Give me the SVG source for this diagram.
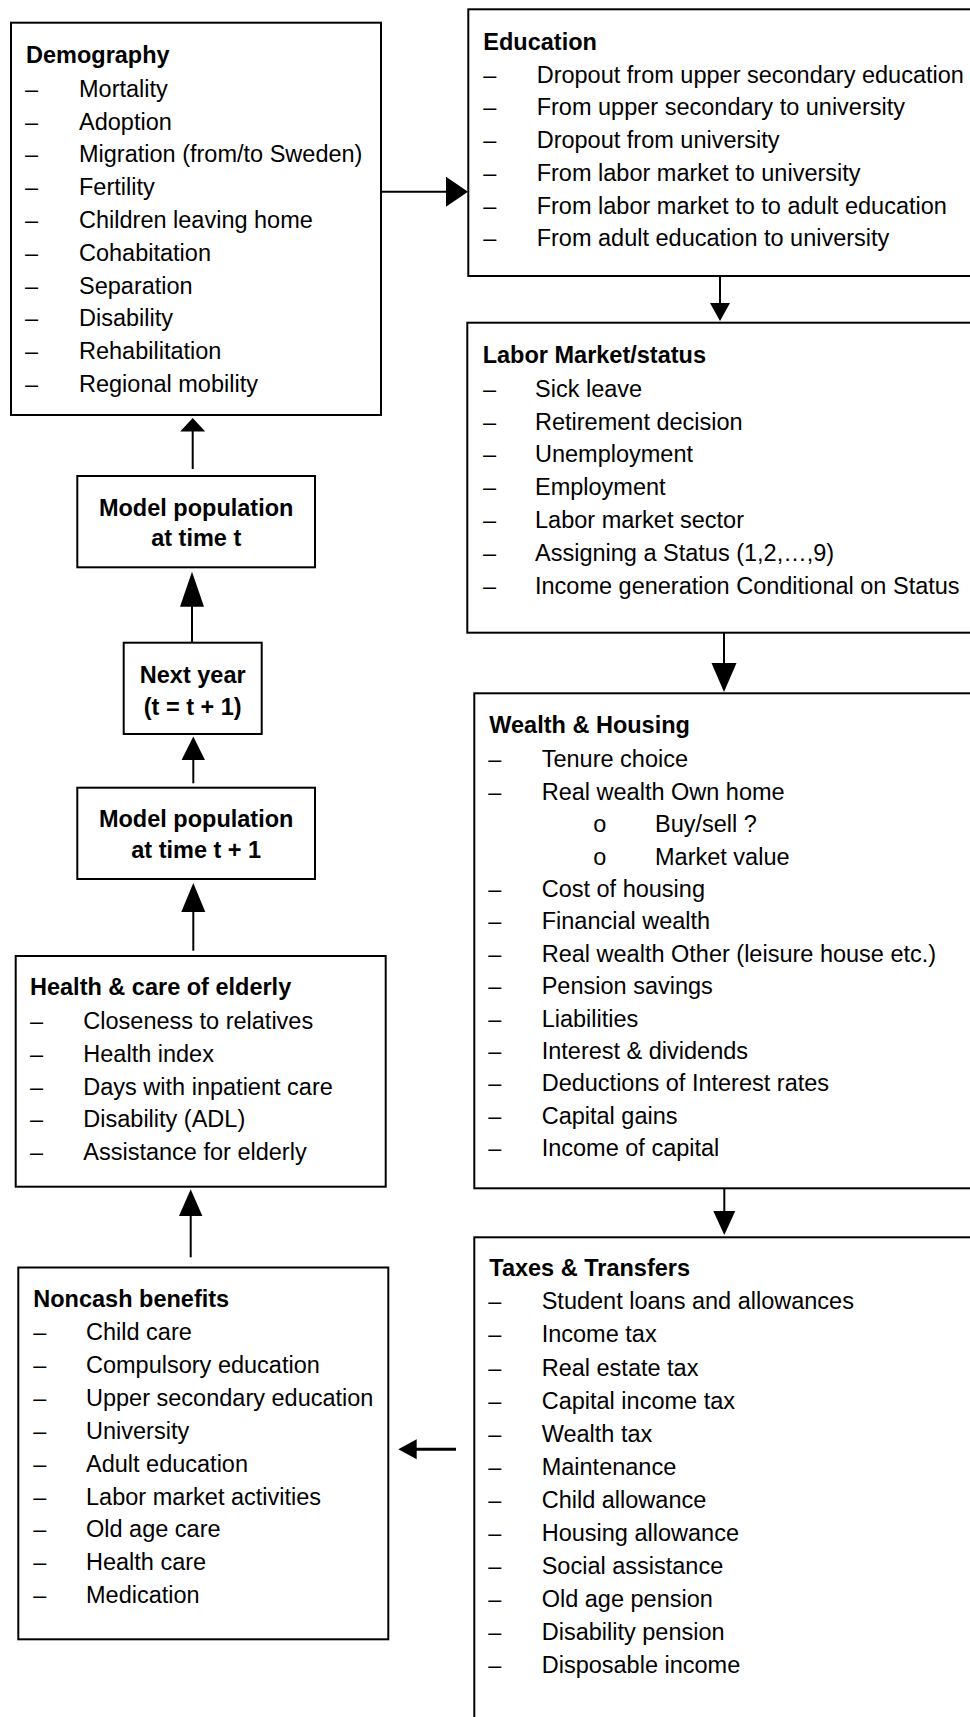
<svg xmlns="http://www.w3.org/2000/svg" width="970" height="1717" viewBox="0 0 970 1717">
<style>
.box{fill:#fff;stroke:#000;stroke-width:2}
text{font-family:"Liberation Sans",Arial,sans-serif;font-size:23.5px;fill:#000}
.t{font-weight:bold}
.c{text-anchor:middle;font-weight:bold}
.ln{stroke:#000;stroke-width:2;fill:none}
.hd{fill:#000;stroke:none}
</style>
<rect width="970" height="1717" fill="#fff"/>

<g id="demography">
<rect class="box" x="11" y="22.7" width="370" height="392.3"/>
<text class="t" x="26" y="63">Demography</text>
<g>
<text x="25" y="96.7">–</text><text x="79" y="96.7">Mortality</text>
<text x="25" y="129.5">–</text><text x="79" y="129.5">Adoption</text>
<text x="25" y="162.3">–</text><text x="79" y="162.3">Migration (from/to Sweden)</text>
<text x="25" y="195.1">–</text><text x="79" y="195.1">Fertility</text>
<text x="25" y="227.9">–</text><text x="79" y="227.9">Children leaving home</text>
<text x="25" y="260.7">–</text><text x="79" y="260.7">Cohabitation</text>
<text x="25" y="293.5">–</text><text x="79" y="293.5">Separation</text>
<text x="25" y="326.3">–</text><text x="79" y="326.3">Disability</text>
<text x="25" y="359.1">–</text><text x="79" y="359.1">Rehabilitation</text>
<text x="25" y="391.9">–</text><text x="79" y="391.9">Regional mobility</text>
</g>
</g>

<g id="education">
<rect class="box" x="468.3" y="9.3" width="540" height="266.7"/>
<text class="t" x="483.3" y="50">Education</text>
<text x="483.3" y="82.7">–</text><text x="536.7" y="82.7">Dropout from upper secondary education</text>
<text x="483.3" y="115.4">–</text><text x="536.7" y="115.4">From upper secondary to university</text>
<text x="483.3" y="148.1">–</text><text x="536.7" y="148.1">Dropout from university</text>
<text x="483.3" y="180.8">–</text><text x="536.7" y="180.8">From labor market to university</text>
<text x="483.3" y="213.5">–</text><text x="536.7" y="213.5">From labor market to to adult education</text>
<text x="483.3" y="246.2">–</text><text x="536.7" y="246.2">From adult education to university</text>
</g>

<g id="labor">
<rect class="box" x="467.3" y="322.7" width="540" height="310"/>
<text class="t" x="482.7" y="362.7">Labor Market/status</text>
<text x="483" y="396.7">–</text><text x="535" y="396.7">Sick leave</text>
<text x="483" y="429.5">–</text><text x="535" y="429.5">Retirement decision</text>
<text x="483" y="462.3">–</text><text x="535" y="462.3">Unemployment</text>
<text x="483" y="495.1">–</text><text x="535" y="495.1">Employment</text>
<text x="483" y="527.9">–</text><text x="535" y="527.9">Labor market sector</text>
<text x="483" y="560.7">–</text><text x="535" y="560.7">Assigning a Status (1,2,…,9)</text>
<text x="483" y="593.5">–</text><text x="535" y="593.5">Income generation Conditional on Status</text>
</g>

<g id="wealth">
<rect class="box" x="474.3" y="693.3" width="540" height="495"/>
<text class="t" x="489.3" y="733.3">Wealth &amp; Housing</text>
<text x="488.3" y="767.3">–</text><text x="541.7" y="767.3">Tenure choice</text>
<text x="488.3" y="799.7">–</text><text x="541.7" y="799.7">Real wealth Own home</text>
<text x="593.3" y="832.1">o</text><text x="655" y="832.1">Buy/sell ?</text>
<text x="593.3" y="864.5">o</text><text x="655" y="864.5">Market value</text>
<text x="488.3" y="896.9">–</text><text x="541.7" y="896.9">Cost of housing</text>
<text x="488.3" y="929.3">–</text><text x="541.7" y="929.3">Financial wealth</text>
<text x="488.3" y="961.7">–</text><text x="541.7" y="961.7">Real wealth Other (leisure house etc.)</text>
<text x="488.3" y="994.1">–</text><text x="541.7" y="994.1">Pension savings</text>
<text x="488.3" y="1026.5">–</text><text x="541.7" y="1026.5">Liabilities</text>
<text x="488.3" y="1058.9">–</text><text x="541.7" y="1058.9">Interest &amp; dividends</text>
<text x="488.3" y="1091.3">–</text><text x="541.7" y="1091.3">Deductions of Interest rates</text>
<text x="488.3" y="1123.7">–</text><text x="541.7" y="1123.7">Capital gains</text>
<text x="488.3" y="1156.1">–</text><text x="541.7" y="1156.1">Income of capital</text>
</g>

<g id="taxes">
<rect class="box" x="474.3" y="1237.3" width="540" height="520"/>
<text class="t" x="489.3" y="1276">Taxes &amp; Transfers</text>
<text x="488.3" y="1309.3">–</text><text x="541.7" y="1309.3">Student loans and allowances</text>
<text x="488.3" y="1342.4">–</text><text x="541.7" y="1342.4">Income tax</text>
<text x="488.3" y="1375.5">–</text><text x="541.7" y="1375.5">Real estate tax</text>
<text x="488.3" y="1408.6">–</text><text x="541.7" y="1408.6">Capital income tax</text>
<text x="488.3" y="1441.7">–</text><text x="541.7" y="1441.7">Wealth tax</text>
<text x="488.3" y="1474.8">–</text><text x="541.7" y="1474.8">Maintenance</text>
<text x="488.3" y="1507.9">–</text><text x="541.7" y="1507.9">Child allowance</text>
<text x="488.3" y="1541">–</text><text x="541.7" y="1541">Housing allowance</text>
<text x="488.3" y="1574.1">–</text><text x="541.7" y="1574.1">Social assistance</text>
<text x="488.3" y="1607.2">–</text><text x="541.7" y="1607.2">Old age pension</text>
<text x="488.3" y="1640.3">–</text><text x="541.7" y="1640.3">Disability pension</text>
<text x="488.3" y="1673.4">–</text><text x="541.7" y="1673.4">Disposable income</text>
</g>

<g id="health">
<rect class="box" x="15.7" y="956" width="370" height="230.7"/>
<text class="t" x="30" y="995">Health &amp; care of elderly</text>
<text x="30" y="1029">–</text><text x="83.3" y="1029">Closeness to relatives</text>
<text x="30" y="1061.8">–</text><text x="83.3" y="1061.8">Health index</text>
<text x="30" y="1094.5">–</text><text x="83.3" y="1094.5">Days with inpatient care</text>
<text x="30" y="1127.3">–</text><text x="83.3" y="1127.3">Disability (ADL)</text>
<text x="30" y="1160">–</text><text x="83.3" y="1160">Assistance for elderly</text>
</g>

<g id="noncash">
<rect class="box" x="18.3" y="1267.5" width="370" height="371.8"/>
<text class="t" x="33.3" y="1307.3">Noncash benefits</text>
<text x="33.3" y="1340">–</text><text x="86" y="1340">Child care</text>
<text x="33.3" y="1372.9">–</text><text x="86" y="1372.9">Compulsory education</text>
<text x="33.3" y="1405.8">–</text><text x="86" y="1405.8">Upper secondary education</text>
<text x="33.3" y="1438.7">–</text><text x="86" y="1438.7">University</text>
<text x="33.3" y="1471.6">–</text><text x="86" y="1471.6">Adult education</text>
<text x="33.3" y="1504.5">–</text><text x="86" y="1504.5">Labor market activities</text>
<text x="33.3" y="1537.4">–</text><text x="86" y="1537.4">Old age care</text>
<text x="33.3" y="1570.3">–</text><text x="86" y="1570.3">Health care</text>
<text x="33.3" y="1603.2">–</text><text x="86" y="1603.2">Medication</text>
</g>

<g id="pop_t">
<rect class="box" x="77.3" y="476" width="237.7" height="91.3"/>
<text class="c" x="196.2" y="516">Model population</text>
<text class="c" x="196.2" y="546">at time t</text>
</g>

<g id="next_year">
<rect class="box" x="123.7" y="642.7" width="138" height="91.3"/>
<text class="c" x="192.7" y="683.3">Next year</text>
<text class="c" x="192.7" y="715">(t = t + 1)</text>
</g>

<g id="pop_t1">
<rect class="box" x="77.3" y="787.7" width="237.7" height="91.3"/>
<text class="c" x="196.2" y="827.3">Model population</text>
<text class="c" x="196.2" y="858.3">at time t + 1</text>
</g>

<g id="connectors">
<line class="ln" x1="381" y1="191.7" x2="447" y2="191.7"/>
<polygon class="hd" points="446,176.7 468,191.7 446,206.7"/>
<line class="ln" x1="720" y1="276" x2="720" y2="304"/>
<polygon class="hd" points="710,303 720,321 730,303"/>
<line class="ln" x1="724" y1="632.7" x2="724" y2="664"/>
<polygon class="hd" points="711.5,663 724,692 736.5,663"/>
<line class="ln" x1="724.3" y1="1188.3" x2="724.3" y2="1212"/>
<polygon class="hd" points="713.3,1211 724.3,1235 735.3,1211"/>
<line class="ln" x1="456" y1="1449.3" x2="414" y2="1449.3" style="stroke-width:3"/>
<polygon class="hd" points="416.7,1439.3 398.3,1449.3 416.7,1459.3"/>
<line class="ln" x1="190.7" y1="1257.3" x2="190.7" y2="1215"/>
<polygon class="hd" points="179,1216 190.7,1189.3 202.4,1216"/>
<line class="ln" x1="193.3" y1="950.7" x2="193.3" y2="911"/>
<polygon class="hd" points="181.3,912 193.3,883 205.3,912"/>
<line class="ln" x1="193.3" y1="783.3" x2="193.3" y2="759"/>
<polygon class="hd" points="181.6,760 193.3,736.5 205,760"/>
<line class="ln" x1="192" y1="642.7" x2="192" y2="605.7"/>
<polygon class="hd" points="180,606.7 192,571.7 204,606.7"/>
<line class="ln" x1="192.7" y1="469" x2="192.7" y2="430"/>
<polygon class="hd" points="180.2,431.5 192.7,418 205.2,431.5"/>
</g>
</svg>
